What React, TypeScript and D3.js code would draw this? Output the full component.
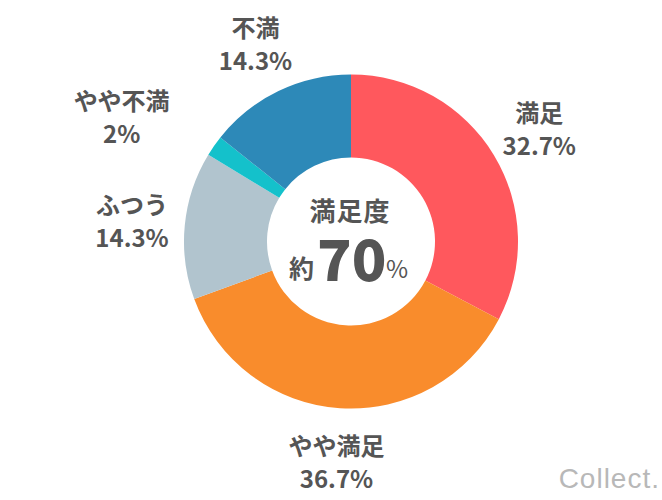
import React from "react";
import * as d3 from "d3";

// satisfaction survey breakdown (clockwise from 12 o'clock)
const categories = ["満足", "やや満足", "ふつう", "やや不満", "不満"];
const values = [32.7, 36.7, 14.3, 2, 14.3];
const colors = ["#FF585D", "#F98C2C", "#B1C4CE", "#14C1CB", "#2D89B8"];

const centerTitle = "満足度";
const centerPrefix = "約";
const centerValue = "70";
const centerSuffix = "%";
const watermark = "Collect.";

const W = 662;
const H = 500;
const cx = 351;
const cy = 241.5;
const outerR = 167;
const innerR = 84;
const labelR = 220;
// small slice label is pushed sideways so it doesn't crowd its neighbours
const labelNudgeX = [0, 0, 0, -49, 0];

const font = "'Noto Sans CJK JP', 'Noto Sans', sans-serif";
const textColor = "#555555";

const App: React.FC = () => {
  const pie = d3
    .pie<number>()
    .sort(null)
    .value((d) => d);
  const arcs = pie(values);

  const arc = d3
    .arc<d3.PieArcDatum<number>>()
    .innerRadius(innerR)
    .outerRadius(outerR);

  const labelArc = d3
    .arc<d3.PieArcDatum<number>>()
    .innerRadius(labelR)
    .outerRadius(labelR);

  return (
    <svg
      width={W}
      height={H}
      style={{ position: "absolute", left: 0, top: 0, background: "#fff" }}
    >
      <g transform={`translate(${cx},${cy})`}>
        {arcs.map((a, i) => (
          <path key={i} d={arc(a) || ""} fill={colors[i]} />
        ))}

        {arcs.map((a, i) => {
          const [lx, ly] = labelArc.centroid(a);
          const x = lx + labelNudgeX[i];
          return (
            <text
              key={"l" + i}
              textAnchor="middle"
              fontFamily={font}
              fontWeight="bold"
              fontSize={24}
              fill={textColor}
            >
              <tspan x={x} y={ly - 6}>
                {categories[i]}
              </tspan>
              <tspan x={x} y={ly + 27}>
                {values[i] + "%"}
              </tspan>
            </text>
          );
        })}

        {/* centre annotation */}
        <text
          x={-1}
          y={-21}
          textAnchor="middle"
          fontFamily={font}
          fontWeight="bold"
          fontSize={26}
          letterSpacing={1}
          fill={textColor}
        >
          {centerTitle}
        </text>
        <text
          x={-62}
          y={36}
          fontFamily={font}
          fontWeight="bold"
          fontSize={25}
          fill={textColor}
        >
          {centerPrefix}
        </text>
        <text
          x={-34}
          y={39}
          fontFamily={font}
          fontWeight={900}
          fontSize={57}
          fill={textColor}
        >
          {centerValue}
        </text>
        <text
          x={35}
          y={36}
          fontFamily={font}
          fontSize={24}
          fill={textColor}
        >
          {centerSuffix}
        </text>
      </g>

      <text
        x={660}
        y={488}
        textAnchor="end"
        fontFamily="'Liberation Sans', Arial, sans-serif"
        fontSize={28}
        letterSpacing={1}
        fill="#b8b8b8"
      >
        {watermark}
      </text>
    </svg>
  );
};

export default App;
